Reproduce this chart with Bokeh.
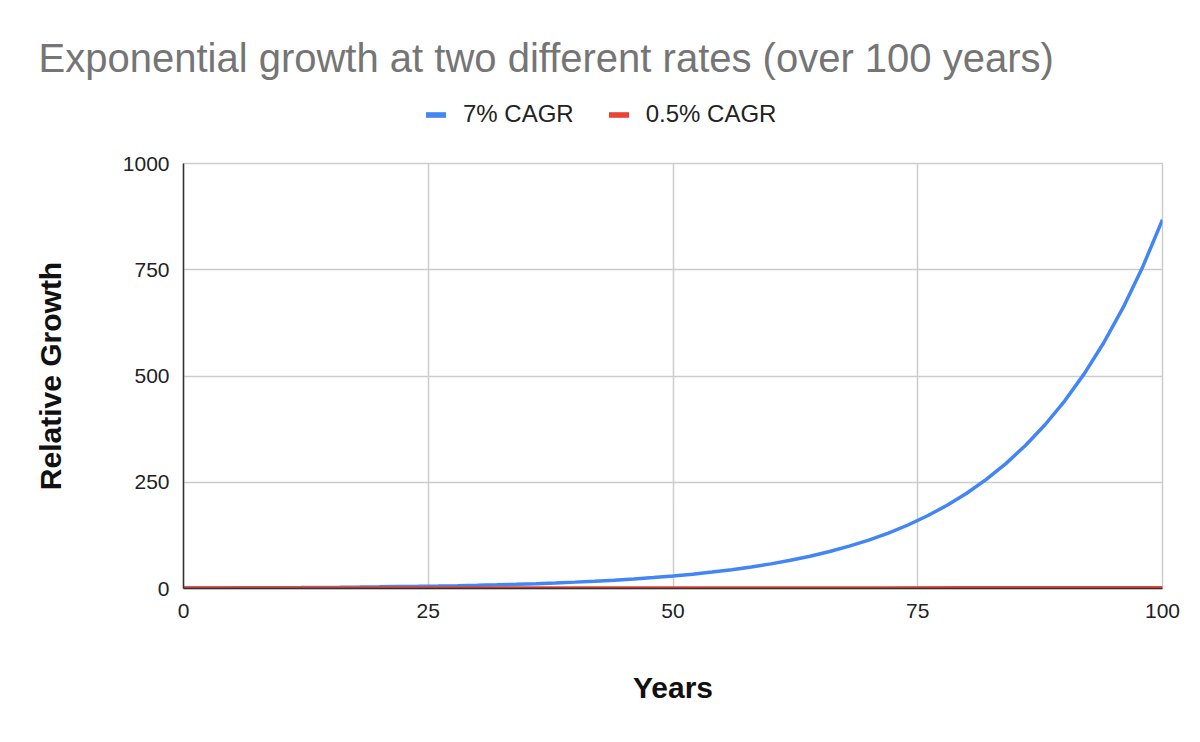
from bokeh.plotting import figure
from bokeh.models import Legend, LegendItem, Range1d, FixedTicker, Title
from bokeh.layouts import column
from bokeh.embed import file_html
from bokeh.resources import INLINE

# ---- data ----
years_fast = [0, 2, 4, 6, 8, 10, 12, 14, 16, 18, 20, 22, 24, 26, 28, 30, 32, 34, 36, 38, 40,
              42, 44, 46, 48, 50, 52, 54, 56, 58, 60, 62, 64, 66, 68, 70, 72, 74, 76, 78, 80,
              82, 84, 86, 88, 90, 92, 94, 96, 98, 100]
growth_fast = [1.0, 1.14, 1.31, 1.5, 1.72, 1.97, 2.25, 2.58, 2.95, 3.38, 3.87, 4.43, 5.07, 5.81,
               6.65, 7.61, 8.72, 9.98, 11.4, 13.1, 15.0, 17.1, 19.6, 22.5, 25.7, 29.5, 33.7,
               38.6, 44.2, 50.6, 57.9, 66.3, 76.0, 87.0, 99.6, 114.0, 130.5, 149.4, 171.1,
               195.9, 224.2, 256.7, 293.9, 336.5, 385.3, 441.1, 505.0, 578.2, 662.0, 757.9, 867.7]
years_slow = [0, 10, 20, 30, 40, 50, 60, 70, 80, 90, 100]
growth_slow = [1.0, 1.05, 1.1, 1.16, 1.22, 1.28, 1.35, 1.42, 1.49, 1.57, 1.65]
series_names = ["7% CAGR", "0.5% CAGR"]
x_ticks = [0, 25, 50, 75, 100]
y_ticks = [0, 250, 500, 750, 1000]
title_text = "Exponential growth at two different rates (over 100 years)"
x_title = "Years"
y_title = "Relative Growth"

BLUE = "#4285F4"
RED = "#EA4335"
FONT = "Liberation Sans"
NAN = float("nan")

# ---------- header (title + legend) ----------
head = figure(width=1184, height=151, output_backend="svg", toolbar_location=None,
              x_axis_type=None, y_axis_type=None, x_range=Range1d(0, 1), y_range=Range1d(0, 1),
              min_border_left=0, min_border_right=0, min_border_top=80, min_border_bottom=0)
head.outline_line_color = None
head.xgrid.visible = False
head.ygrid.visible = False
head.background_fill_color = "white"
head.border_fill_color = "white"

head.add_layout(Title(text=title_text, align="left", offset=-145, standoff=2,
                      text_font=FONT, text_font_size="40px", text_font_style="normal",
                      text_color="#757575"), "above")

# legend swatches (no visible marks of their own)
q1 = head.quad(left=[NAN], right=[NAN], top=[NAN], bottom=[NAN], fill_color=BLUE, line_color=None)
q2 = head.quad(left=[NAN], right=[NAN], top=[NAN], bottom=[NAN], fill_color=RED, line_color=None)
legend = Legend(items=[LegendItem(label=series_names[0], renderers=[q1]),
                       LegendItem(label=series_names[1], renderers=[q2])],
                orientation="horizontal", location=(240, 23),
                glyph_width=25, glyph_height=7, label_standoff=15, spacing=32,
                padding=0, margin=0, border_line_color=None, background_fill_alpha=0,
                label_text_font=FONT, label_text_font_size="24px", label_text_color="#222222")
head.add_layout(legend, "center")

# ---------- main chart ----------
p = figure(width=1184, height=575, output_backend="svg", toolbar_location=None,
           x_range=Range1d(0, 100), y_range=Range1d(0, 1000),
           min_border_left=183, min_border_right=22, min_border_top=12, min_border_bottom=138)
p.outline_line_color = "#cccccc"
p.outline_line_width = 1.5
p.background_fill_color = "white"
p.border_fill_color = "white"

for ax in (p.xaxis[0], p.yaxis[0]):
    ax.major_tick_line_color = None
    ax.minor_tick_line_color = None
    ax.axis_line_color = "#333333"
    ax.axis_line_width = 1.5
    ax.major_label_text_font = FONT
    ax.major_label_text_font_size = "21px"
    ax.major_label_text_color = "#222222"
    ax.axis_label_text_font = FONT
    ax.axis_label_text_font_size = "30px"
    ax.axis_label_text_font_style = "bold"
    ax.axis_label_text_color = "#111111"
p.xaxis[0].ticker = FixedTicker(ticks=x_ticks)
p.yaxis[0].ticker = FixedTicker(ticks=y_ticks)
p.xaxis[0].major_label_standoff = 9
p.yaxis[0].major_label_standoff = 8
p.xaxis[0].axis_label = x_title
p.yaxis[0].axis_label = y_title
p.xaxis[0].axis_label_standoff = 50
p.yaxis[0].axis_label_standoff = 53

p.xgrid.grid_line_color = "#cccccc"
p.ygrid.grid_line_color = "#cccccc"
p.xgrid.grid_line_width = 1.5
p.ygrid.grid_line_width = 1.5

p.line(years_fast, growth_fast, line_color=BLUE, line_width=3.5)
p.line(years_slow, growth_slow, line_color=RED, line_width=3.5)

layout = column(head, p, spacing=0)
open("out.html", "w").write(file_html(layout, INLINE))
